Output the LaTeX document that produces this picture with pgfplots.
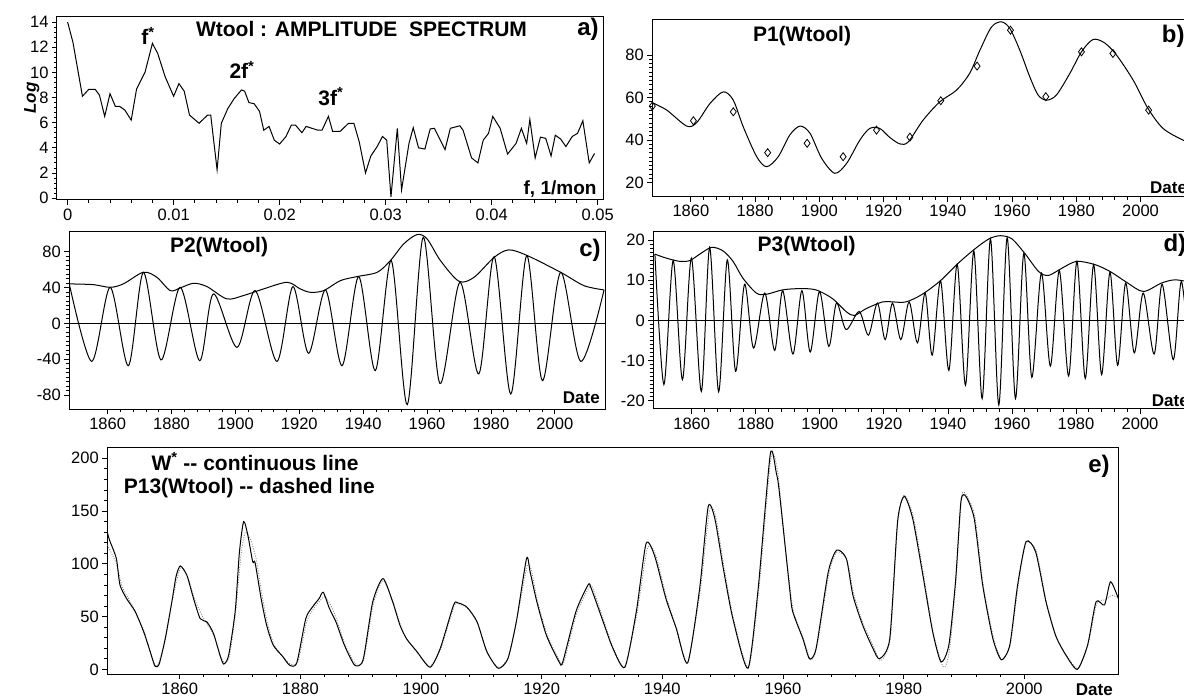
\documentclass[border=0pt]{standalone}
\usepackage{fontspec}
\setmainfont{Liberation Sans}
\usepackage{pgfplots}
\pgfplotsset{compat=1.18}

% one px of the reference = 1pt here
\pgfplotsset{
  panel/.style={
    scale only axis, anchor=south west,
    axis line style={line width=1pt},
    tick align=outside, xtick pos=bottom, ytick pos=left,
    major tick length=5pt, minor tick length=3pt,
    every tick/.style={black, line width=0.8pt},
    tick label style={font=\fontsize{16.5}{18}\selectfont},
    /pgf/number format/assume math mode=true,
    /pgf/number format/1000 sep={},
    scaled ticks=false,
    minor x tick num=4, minor y tick num=4,
  },
  years/.style={xmin=1848, xmax=2015.7, xtick={1860,1880,...,2000}},
}
\tikzset{
  ttl/.style={font=\bfseries\fontsize{21}{23}\selectfont, inner sep=0pt},
  pl/.style={font=\bfseries\fontsize{24}{26}\selectfont, inner sep=0pt},
  dt/.style={font=\bfseries\fontsize{17}{19}\selectfont, inner sep=0pt},
  ln/.style={black, line width=1pt},
}

\pgfplotstableread{
x y
0 14
0.0005 12.4
0.0014 8.1
0.002 8.65
0.0026 8.65
0.003 8.2
0.0035 6.5
0.004 8.3
0.0045 7.3
0.0049 7.3
0.0054 7.0
0.006 6.2
0.0065 8.65
0.0073 10.0
0.008 12.3
0.0085 11.5
0.0092 9.65
0.01 8.1
0.0105 9.1
0.011 8.5
0.0115 6.6
0.0124 5.95
0.0132 6.6
0.0135 6.6
0.0141 2.25
0.0145 5.95
0.0151 7.1
0.0157 7.9
0.0164 8.6
0.0167 8.5
0.0171 7.6
0.0176 7.5
0.0181 6.9
0.0185 5.4
0.019 5.7
0.0195 4.6
0.02 4.3
0.0206 4.9
0.0211 5.8
0.0215 5.8
0.0221 5.2
0.0225 5.7
0.0236 5.4
0.024 5.4
0.0246 6.5
0.025 5.3
0.0257 5.3
0.0265 5.95
0.027 5.95
0.0275 4.5
0.0281 2.0
0.0286 3.35
0.0292 4.1
0.0297 4.9
0.0301 4.6
0.0305 0.1
0.0311 5.55
0.0315 0.65
0.0322 4.35
0.0326 5.6
0.0331 4.0
0.0337 3.9
0.0342 5.5
0.0346 5.55
0.0356 3.85
0.0361 5.55
0.037 5.75
0.0373 5.4
0.0381 3.2
0.0387 2.8
0.0392 4.6
0.0397 5.15
0.0401 6.5
0.0408 5.55
0.0415 3.5
0.0423 4.35
0.0428 5.55
0.0433 4.35
0.0436 6.25
0.0441 3.2
0.0446 4.85
0.0451 4.75
0.0456 3.35
0.046 5.0
0.0465 4.7
0.047 4.1
0.0476 4.9
0.0481 5.15
0.0486 6.15
0.0492 2.8
0.0497 3.55
}\spectrum

\pgfplotstableread{
x y
1848 57.6
1852.5 54.1
1858.7 46.6
1861.8 48.2
1866 57.3
1870.1 62.7
1873.2 58.8
1876.3 46.3
1880.5 32.2
1883.6 27.5
1887.2 32.2
1890.8 42.4
1894 46.6
1897.1 43.2
1900.7 31.5
1904.8 24.4
1908.5 29.1
1912.6 40.0
1915.7 45.5
1918.8 45.5
1921.9 41.3
1925.1 38.2
1927.7 39.2
1932.3 49.4
1937.5 58.0
1942.7 63.5
1946.8 71.4
1950 82.3
1953.6 93.2
1956.7 95.6
1959.3 92.5
1962.4 82.3
1965.5 69.8
1968.1 61.2
1970.7 58.8
1973.8 61.2
1978 71.4
1981.6 81.5
1985.2 87.3
1988.8 85.7
1992.5 80.0
1997.7 68.2
2002.3 54.9
2007 45.5
2013.2 40
2015.7 39
}\pone

\pgfplotstableread{
x y
1848 56
1860.8 49.1
1873.2 53.3
1883.9 34.1
1896.2 38.5
1907.4 32.2
1917.8 44.7
1928.2 41.4
1937.8 58.5
1949.1 74.8
1959.5 91.7
1970.5 60.4
1981.6 81.5
1991.4 80.75
2002.5 54.1
}\wdiam

\pgfplotstableread{
x y
1848 44
1855 -42.5
1860.8 40.2
1866.5 -47.3
1871.2 57
1876.7 -40.9
1882.7 40.2
1888.8 -41.7
1893.1 32.8
1900.5 -26.8
1906.2 36.5
1913 -42.5
1918 41
1922.9 -33.5
1928.2 37.3
1933.4 -47.3
1938.6 52.2
1943.8 -52.8
1948.8 70
1953.8 -90.8
1958.8 96.1
1964 -67
1970.3 45.8
1976.2 -56.5
1981 74.5
1986.2 -78.9
1991.2 75.6
1996.1 -64
2001.8 57
2008.1 -42.5
2015.4 37.3
}\ptwo

\pgfplotstableread{
x y
1848 44
1855.5 43.2
1860.8 40.2
1864.9 44
1871.2 57
1875.4 51.4
1879.6 36.5
1882.7 39.5
1886.9 44.7
1891.1 41
1897.3 27.3
1902.5 31
1908.8 38.4
1916.2 45.8
1920.3 38.4
1923.5 34.6
1927.6 36.5
1932.9 47.7
1938.1 52.2
1944.4 57
1948.5 70
1952.7 88.7
1956.9 99.1
1960 94.3
1964.2 70
1970 46.9
1974.7 51.4
1981 73.7
1985.6 82
1991.4 75.6
2001.8 57
2009.1 42.1
2015.4 37.3
}\ptwoenv

\pgfplotstableread{
x y
1848.5 16.5
1851.3 -16
1854.2 14.9
1857.1 -14.8
1859.9 15.5
1863 -17.7
1865.6 18.2
1868.4 -17.8
1871.1 15.1
1873.7 -12.7
1876.5 9.0
1879.3 -6.9
1882.8 6.8
1885.9 -7.5
1888.4 7.4
1891.6 -8.4
1894.4 7.4
1897 -7.9
1899.9 7.2
1902.8 -6.5
1905.2 4.3
1908.2 -2.3
1912.3 2.2
1915.2 -3.7
1918 4.3
1920.4 -4.8
1922.7 4.3
1925.3 -4.8
1927.9 4.6
1930.5 -5.6
1932.9 6.8
1935.1 -8.7
1937.7 9.9
1940.3 -12.5
1942.9 14.0
1945.5 -16.2
1948.1 17.3
1950.7 -19.5
1953.3 20.3
1955.9 -21.1
1958.5 20.6
1961.1 -19.5
1963.7 16.7
1966.2 -14.2
1969.2 11.8
1972 -11.4
1974.8 12.4
1977.7 -13.9
1980.3 14.7
1982.9 -14.5
1985.5 13.9
1988 -13.5
1990.6 12
1993 -11.2
1995.5 9.3
1998.2 -8.1
2001 6.8
2004.4 -8.4
2006.9 9.0
2010.4 -9.8
2012.9 9.7
2015.5 -10
}\pthree

\pgfplotstableread{
x y
1848.5 16.5
1852.1 15.5
1856.3 14.7
1859.4 14.9
1862.5 16.5
1866.2 18.2
1869.8 17.3
1872.9 14.7
1876 10.5
1880.2 6.8
1883.3 6.5
1888.4 7.6
1893.6 7.9
1898.8 7.6
1904 5.4
1908.2 2.2
1910.8 1.2
1914.4 2.9
1919.6 4.6
1922.7 4.6
1926.9 4.6
1932 6.5
1937.7 9.9
1942.9 14
1948.1 17.6
1952.8 20.3
1956.4 21.1
1960 20.3
1964.2 16.5
1968.3 12.2
1971.4 11.2
1975.6 13
1980.2 14.7
1985.9 13.9
1990.6 12.2
1995.8 9.5
2001 7.2
2006.7 9.3
2010.9 10.1
2015.7 9.5
}\pthreeenv

\pgfplotstableread{
x y
1848.0 130
1848.4 122
1849.5 105
1850.1 80
1851.2 67
1852.6 55
1854.0 36
1855.1 17
1855.9 3
1856.6 5
1857.6 29
1858.7 64
1859.4 88
1860.1 98
1861.2 89
1862.3 67
1863.4 48
1864.5 45
1865.6 34
1866.7 13
1867.3 5
1868.1 13
1869.2 55
1869.9 111
1870.6 140
1871.3 127
1872.1 102
1872.5 101
1873.5 67
1874.4 42
1875.5 23
1877.1 12
1878.2 4
1879.4 6
1880.9 48
1882.0 59
1883.1 67
1883.8 73
1884.8 58
1885.9 45
1887.3 23
1889.0 4
1890.4 9
1892.0 64
1893.7 86
1895.3 64
1896.5 42
1897.6 29
1899.3 17
1901.5 2
1903.2 20
1905.4 61
1906.1 63
1907.6 59
1909.3 45
1910.9 17
1912.8 1
1914.4 10
1915.8 45
1917.5 105
1918.1 92
1919.2 64
1920.8 32
1922.9 7
1923.5 7
1925.7 55
1927.7 80
1928.2 77
1930.2 45
1931.8 20
1933.8 2
1935.7 55
1937.3 119
1938.7 108
1940.6 67
1942.3 39
1944.2 6
1946.2 77
1947.6 154
1948.7 143
1950.1 96
1951.7 48
1954.2 1
1955.9 77
1957.9 204
1958.9 186
1959.4 168
1961.1 77
1961.6 55
1963.3 29
1964.4 10
1965.5 20
1967.5 92
1968.9 113
1970.5 105
1971.6 70
1973.2 42
1974.9 20
1976.0 10
1977.7 29
1979.0 140
1980.1 164
1981.5 143
1983.2 89
1984.8 36
1986.2 7
1987.5 23
1988.6 83
1989.5 159
1990.3 164
1991.7 143
1993.1 80
1994.8 29
1996.2 9
1997.6 23
1998.9 80
2000.3 121
2001.9 111
2003.6 64
2005.2 32
2006.9 13.5
2008.8 0
2010.5 23
2011.9 64
2013.3 61
2014.3 83
2015.6 67
}\wstar

\pgfplotstableread{
x y
1848 118
1849.5 100
1850.5 78
1852 62
1854 38
1855.2 15
1856.2 3
1857.5 25
1858.8 66
1860.1 96
1861.3 88
1862.5 66
1864 48
1865.6 33
1866.8 12
1867.5 6
1868.3 14
1869.3 56
1870.2 110
1870.9 130
1871.8 122
1872.7 104
1873.6 72
1874.5 45
1875.6 24
1877.4 10
1878.4 5
1879.6 7
1881.1 46
1882.3 58
1883.4 66
1884.1 69
1885.1 60
1886.1 46
1887.5 22
1889.2 5
1890.5 9
1892.1 62
1893.7 84
1895.3 65
1896.6 42
1897.7 28
1899.4 16
1901.5 3
1903.3 20
1905.5 60
1906.3 62
1907.7 58
1909.3 44
1911 16
1912.8 2
1914.4 11
1915.9 48
1917.6 98
1918.3 94
1919.3 65
1920.9 33
1923 8
1923.7 7
1925.8 53
1927.8 77
1928.4 78
1930.3 46
1931.9 20
1933.8 3
1935.8 53
1937.5 114
1938.8 110
1940.7 68
1942.4 38
1944.2 7
1946.3 75
1947.8 150
1948.8 146
1950.2 98
1951.8 48
1954.3 2
1956 75
1958 200
1959.1 188
1960.5 110
1961.7 56
1963.3 31
1964.6 9
1965.6 21
1967.6 90
1968.9 111
1970.6 104
1971.7 72
1973.3 43
1975 22
1976.2 8
1977.8 30
1979 138
1980.1 165
1981.6 145
1983.3 90
1984.9 35
1986.6 2
1987.6 18
1988.7 85
1989.6 163
1990.4 165
1991.8 145
1993.2 80
1994.9 30
1996.3 9
1997.7 24
1999 80
2000.3 120
2002 112
2003.7 63
2005.3 31
2007 13
2008.9 1
2010.6 24
2012 62
2013.5 66
2014.5 70
2015.6 68
}\pthirteen

\begin{document}
\begin{tikzpicture}
\path[use as bounding box] (0pt,0pt) rectangle (1184pt,697pt);

% a) amplitude spectrum
\begin{axis}[panel, at={(57pt,497pt)}, width=546pt, height=183pt,
  xmin=-0.001, xmax=0.0505, ymin=-0.15, ymax=14.4,
  xtick={0,0.01,0.02,0.03,0.04,0.05},
  xticklabels={0,0.01,0.02,0.03,0.04,0.05},
  ytick={0,2,4,6,8,10,12,14}]
\addplot[ln] table {\spectrum};
\end{axis}

% b) P1
\begin{axis}[panel, years, at={(652.3pt,500.3pt)}, width=538.7pt, height=177.4pt,
  ymin=13.4, ymax=96.8, ytick={20,40,60,80}, minor y tick num=9]
\addplot[ln, smooth] table {\pone};
\addplot[only marks, mark=diamond, mark size=4pt,
  mark options={black, fill=white, line width=0.8pt}] table {\wdiam};
\end{axis}

% c) P2
\begin{axis}[panel, years, at={(69.3pt,287.7pt)}, width=535.7pt, height=177.6pt,
  ymin=-96, ymax=102.3, ytick={-80,-40,0,40,80}, minor y tick num=7]
\addplot[ln] coordinates {(1848,0) (2015.7,0)};
\addplot[ln, smooth] table {\ptwoenv};
\addplot[ln, smooth] table {\ptwo};
\end{axis}

% d) P3
\begin{axis}[panel, years, at={(653.3pt,288pt)}, width=537pt, height=177.7pt,
  ymin=-22.1, ymax=22.2, ytick={-20,-10,0,10,20}, minor y tick num=9]
\addplot[ln] coordinates {(1848,0) (2015.7,0)};
\addplot[ln, smooth] table {\pthreeenv};
\addplot[ln, smooth] table {\pthree};
\end{axis}

% e) W* and P13
\begin{axis}[panel, years, at={(107.3pt,22.7pt)}, width=1011.7pt, height=226.6pt,
  ymin=-4.7, ymax=210, ytick={0,50,100,150,200}]
\addplot[gray, line width=0.8pt, dash pattern=on 1pt off 1.5pt, smooth, tension=0.4] table {\pthirteen};
\addplot[ln, smooth, tension=0.4] table {\wstar};
\end{axis}

% texts
\node[ttl] at (361.5pt,668pt) {Wtool : AMPLITUDE\ \ SPECTRUM};
\node[pl] at (588pt,668pt) {a)};
\node[ttl] at (148pt,661pt) {f\textsuperscript{*}};
\node[ttl] at (242pt,627pt) {2f\textsuperscript{*}};
\node[ttl] at (330.8pt,600.3pt) {3f\textsuperscript{*}};
\node[font=\bfseries\fontsize{19}{21}\selectfont, inner sep=0pt, anchor=base east] at (596.7pt,502pt) {f, 1/mon};
\node[font=\bfseries\itshape\fontsize{17}{19}\selectfont, inner sep=0pt, rotate=90] at (31.7pt,599pt) {Log};

\node[ttl] at (802pt,661pt) {P1(Wtool)};
\node[pl, anchor=west] at (1161.7pt,660.3pt) {b)};
\node[dt, anchor=base west] at (1150pt,503.7pt) {Date};

\node[ttl] at (219pt,450.3pt) {P2(Wtool)};
\node[pl] at (590pt,447pt) {c)};
\node[dt, anchor=base east] at (600pt,293.7pt) {Date};

\node[ttl] at (806.7pt,451.2pt) {P3(Wtool)};
\node[pl, anchor=west] at (1163.3pt,452pt) {d)};
\node[dt, anchor=base west] at (1151.7pt,290.3pt) {Date};

\node[ttl] at (255pt,235.3pt) {W\textsuperscript{*} -{}- continuous line};
\node[ttl] at (249.3pt,208.7pt) {P13(Wtool) -{}- dashed line};
\node[pl] at (1099pt,230.3pt) {e)};
\node[dt, anchor=base east] at (1113pt,2pt) {Date};
\end{tikzpicture}
\end{document}
